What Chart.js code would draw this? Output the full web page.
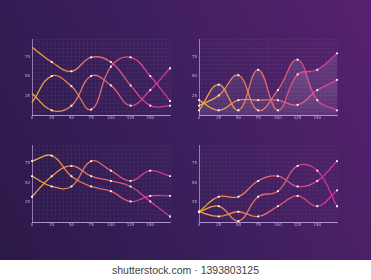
<!DOCTYPE html>
<html>
<head>
<meta charset="utf-8">
<script src="https://cdn.jsdelivr.net/npm/chart.js@4/dist/chart.umd.min.js"></script>
<style>
  html, body { margin: 0; padding: 0; }
  body { width: 371px; height: 280px; position: relative; overflow: hidden; background: #fff; }
  #bg {
    position: absolute; left: 0; top: 0; width: 371px; height: 260px;
    background: linear-gradient(65deg, #2b1948 0%, #3a1f5c 45%, #58216f 100%);
  }
  canvas { position: absolute; }
  #stamp {
    position: absolute; left: 0; top: 261px; width: 371px; height: 19px;
    text-align: center; font: 10.5px "Liberation Sans", Arial, sans-serif; color: #404040; line-height: 19px;
  }
</style>
</head>
<body>
<div id="bg"></div>
<canvas id="c1" width="156" height="89" style="left:18px;top:35px"></canvas>
<canvas id="c2" width="156" height="89" style="left:185px;top:35px"></canvas>
<canvas id="c3" width="156" height="90" style="left:18px;top:141px"></canvas>
<canvas id="c4" width="156" height="90" style="left:185px;top:141px"></canvas>
<div id="stamp">shutterstock.com · 1393803125</div>

<script>
// x positions shared by all four panels
var xValues = [0, 25, 50, 75, 100, 125, 150, 175];
var xTickLabels = [0, 25, 50, 75, 100, 125, 150];
var yTickLabels = [25, 50, 75];

// top left panel
var tlOne = [87, 68, 56, 74, 68, 38, 12, 12];
var tlTwo = [16, 50, 37, 7, 62, 74, 50, 18];
var tlThree = [28, 6, 12, 50, 38, 12, 32, 60];

// top right panel (filled)
var trOne = [6, 39, 6, 58, 6, 52, 58, 79];
var trTwo = [12, 25, 51, 6, 32, 71, 19, 6];
var trThree = [19, 6, 19, 19, 19, 13, 32, 45];

// bottom left panel
var blOne = [77, 84, 58, 45, 39, 26, 33, 33];
var blTwo = [58, 45, 45, 77, 65, 52, 65, 58];
var blThree = [32, 58, 71, 58, 52, 45, 26, 7];

// bottom right panel
var brOne = [13, 32, 32, 52, 58, 45, 52, 77];
var brTwo = [13, 20, 1, 32, 39, 71, 65, 20];
var brThree = [13, 7, 13, 7, 20, 33, 20, 40];

function lineGradient(ctx) {
    var chart = ctx.chart, area = chart.chartArea;
    if (!area) return '#e06a70';
    var g = chart.ctx.createLinearGradient(area.left, 0, area.right, 0);
    g.addColorStop(0, '#f2a83a');
    g.addColorStop(0.5, '#e4666f');
    g.addColorStop(1, '#d52c9f');
    return g;
}

function fillGradient(ctx) {
    var chart = ctx.chart, area = chart.chartArea;
    if (!area) return 'rgba(255,255,255,0.08)';
    var g = chart.ctx.createLinearGradient(0, area.top, 0, area.bottom);
    g.addColorStop(0, 'rgba(255,255,255,0.15)');
    g.addColorStop(1, 'rgba(255,255,255,0.03)');
    return g;
}

function toPoints(values) {
    return xValues.map(function (x, i) { return {x: x, y: values[i]}; });
}

function makePanel(id, series, opts) {
    opts = opts || {};
    var radius = xValues.map(function (x, i) {
        return (opts.hideFirst && i === 0) ? 0 : 1.3;
    });

    var datasets = series.map(function (values) {
        return {
            data: toPoints(values),
            borderColor: lineGradient,
            borderWidth: 1.3,
            tension: 0.42,
            fill: opts.filled ? 'origin' : false,
            backgroundColor: fillGradient,
            pointStyle: 'rect',
            pointRadius: radius,
            pointBackgroundColor: '#ffffff',
            pointBorderWidth: 0,
            clip: false
        };
    });

    new Chart(document.getElementById(id), {
        type: 'line',
        data: {datasets: datasets},
        options: {
            responsive: false,
            animation: false,
            layout: {padding: {top: 3, right: 3, left: 0, bottom: 0}},
            plugins: {legend: {display: false}, tooltip: {enabled: false}},
            scales: {
                x: {
                    type: 'linear', min: 0, max: 175,
                    afterFit: function (scale) { scale.height = 9; },
                    grid: {color: 'rgba(255,255,255,0.055)', lineWidth: 0.6, drawTicks: false},
                    border: {color: 'rgba(215,180,245,0.75)', width: 1},
                    ticks: {
                        stepSize: 5, autoSkip: false, maxRotation: 0, padding: 1,
                        color: 'rgba(235,210,255,0.75)',
                        font: {size: 4, family: 'DejaVu Sans'},
                        callback: function (v) { return xTickLabels.indexOf(v) > -1 ? String(v) : ''; }
                    }
                },
                y: {
                    min: 0, max: 97,
                    afterFit: function (scale) { scale.width = 14; },
                    grid: {color: 'rgba(255,255,255,0.055)', lineWidth: 0.6, drawTicks: false},
                    border: {color: 'rgba(215,180,245,0.6)', width: 1},
                    ticks: {
                        stepSize: 5, autoSkip: false, padding: 2,
                        color: 'rgba(235,210,255,0.75)',
                        font: {size: 4, family: 'DejaVu Sans'},
                        callback: function (v) { return yTickLabels.indexOf(v) > -1 ? String(v) : ''; }
                    }
                }
            }
        }
    });
}

makePanel('c1', [tlOne, tlTwo, tlThree], {hideFirst: true});
makePanel('c2', [trOne, trTwo, trThree], {filled: true});
makePanel('c3', [blOne, blTwo, blThree]);
makePanel('c4', [brOne, brTwo, brThree]);
</script>
</body>
</html>
